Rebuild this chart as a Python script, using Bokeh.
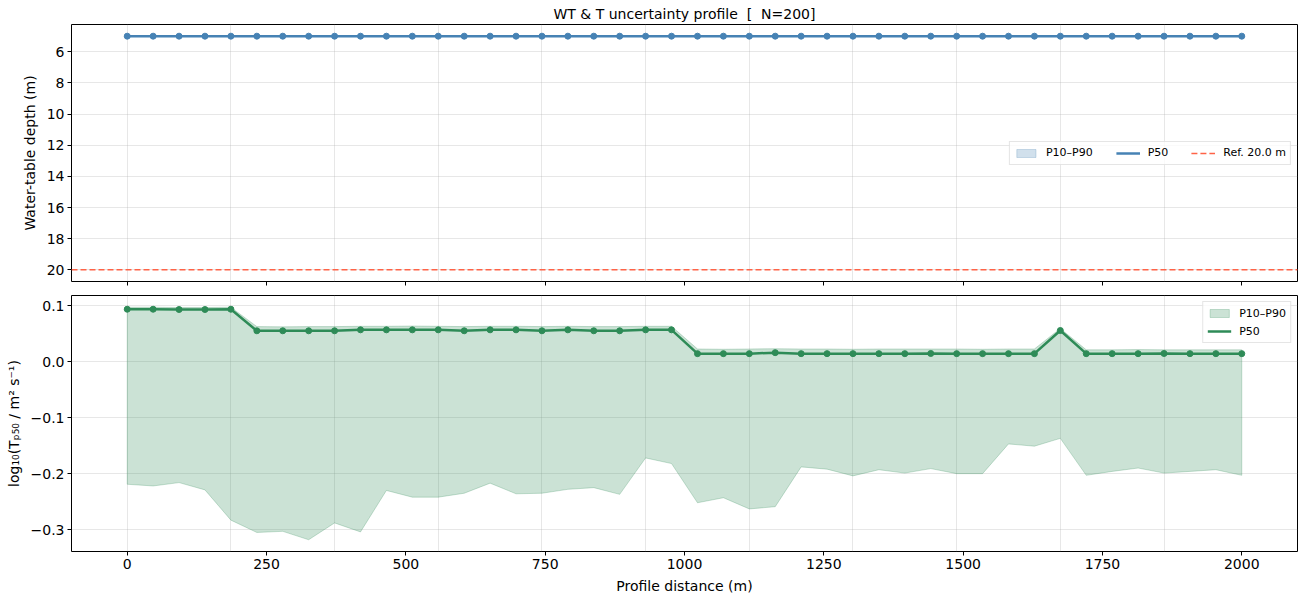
from bokeh.plotting import figure
from bokeh.models import (Range1d, FixedTicker, Span, Legend, LegendItem,
                          CustomJSTickFormatter)
from bokeh.layouts import column
from bokeh.embed import file_html
from bokeh.resources import INLINE

# ---------------- data ----------------
distance = [0.0, 46.5, 93.0, 139.5, 186.0, 232.6, 279.1, 325.6, 372.1, 418.6,
            465.1, 511.6, 558.1, 604.7, 651.2, 697.7, 744.2, 790.7, 837.2, 883.7,
            930.2, 976.7, 1023.3, 1069.8, 1116.3, 1162.8, 1209.3, 1255.8, 1302.3, 1348.8,
            1395.3, 1441.9, 1488.4, 1534.9, 1581.4, 1627.9, 1674.4, 1720.9, 1767.4, 1814.0,
            1860.5, 1907.0, 1953.5, 2000.0]

wt_p10 = [5.0, 5.0, 5.0, 5.0, 5.0, 5.0, 5.0, 5.0, 5.0, 5.0, 5.0, 5.0, 5.0, 5.0, 5.0,
          5.0, 5.0, 5.0, 5.0, 5.0, 5.0, 5.0, 5.0, 5.0, 5.0, 5.0, 5.0, 5.0, 5.0, 5.0,
          5.0, 5.0, 5.0, 5.0, 5.0, 5.0, 5.0, 5.0, 5.0, 5.0, 5.0, 5.0, 5.0, 5.0]
wt_p50 = [5.0, 5.0, 5.0, 5.0, 5.0, 5.0, 5.0, 5.0, 5.0, 5.0, 5.0, 5.0, 5.0, 5.0, 5.0,
          5.0, 5.0, 5.0, 5.0, 5.0, 5.0, 5.0, 5.0, 5.0, 5.0, 5.0, 5.0, 5.0, 5.0, 5.0,
          5.0, 5.0, 5.0, 5.0, 5.0, 5.0, 5.0, 5.0, 5.0, 5.0, 5.0, 5.0, 5.0, 5.0]
wt_p90 = [5.0, 5.0, 5.0, 5.0, 5.0, 5.0, 5.0, 5.0, 5.0, 5.0, 5.0, 5.0, 5.0, 5.0, 5.0,
          5.0, 5.0, 5.0, 5.0, 5.0, 5.0, 5.0, 5.0, 5.0, 5.0, 5.0, 5.0, 5.0, 5.0, 5.0,
          5.0, 5.0, 5.0, 5.0, 5.0, 5.0, 5.0, 5.0, 5.0, 5.0, 5.0, 5.0, 5.0, 5.0]
ref_depth = 20.0

t_p10 = [-0.219, -0.222, -0.216, -0.229, -0.283, -0.305, -0.303, -0.318, -0.288, -0.304,
         -0.230, -0.242, -0.242, -0.235, -0.217, -0.236, -0.235, -0.228, -0.225, -0.237,
         -0.172, -0.182, -0.252, -0.243, -0.263, -0.259, -0.188, -0.192, -0.204, -0.193,
         -0.199, -0.191, -0.200, -0.200, -0.147, -0.151, -0.137, -0.203, -0.196, -0.190,
         -0.199, -0.196, -0.193, -0.203]
t_p50 = [0.0935, 0.0935, 0.093, 0.093, 0.0935, 0.055, 0.055, 0.055, 0.055, 0.0567,
         0.0567, 0.0567, 0.0567, 0.055, 0.0567, 0.0567, 0.055, 0.0567, 0.055, 0.055,
         0.0567, 0.0567, 0.0142, 0.0142, 0.0142, 0.016, 0.0142, 0.0142, 0.0142, 0.0142,
         0.0142, 0.0145, 0.0142, 0.0142, 0.0142, 0.0142, 0.0555, 0.0142, 0.0142, 0.0142,
         0.0145, 0.0142, 0.0142, 0.0142]
t_p90 = [0.097, 0.097, 0.0965, 0.0965, 0.097, 0.0625, 0.062, 0.0625, 0.0625, 0.063,
         0.063, 0.0635, 0.063, 0.0625, 0.063, 0.063, 0.0625, 0.063, 0.0625, 0.0625,
         0.063, 0.063, 0.0225, 0.022, 0.0225, 0.023, 0.0225, 0.0225, 0.022, 0.0225,
         0.0225, 0.0225, 0.0225, 0.022, 0.0225, 0.0225, 0.059, 0.021, 0.021, 0.0215,
         0.021, 0.021, 0.021, 0.021]

x_ticks = [0, 250, 500, 750, 1000, 1250, 1500, 1750, 2000]
wt_ticks = [6, 8, 10, 12, 14, 16, 18, 20]
t_ticks = [-0.3, -0.2, -0.1, 0.0, 0.1]
grid_x = distance[::4]

title_text = "WT & T uncertainty profile \u00a0[ \u00a0N=200]"
FONT = "DejaVu Sans"
BLUE = "steelblue"
GREEN = "seagreen"
RED = "tomato"


def style(p):
    p.outline_line_color = "black"
    p.outline_line_alpha = 1.0
    p.outline_line_width = 1
    p.background_fill_color = "white"
    p.border_fill_color = "white"
    for ax in p.axis:
        ax.axis_line_color = None
        ax.major_tick_out = 4
        ax.major_tick_in = 0
        ax.minor_tick_out = 0
        ax.minor_tick_in = 0
        ax.major_tick_line_color = "black"
        ax.major_label_text_font = FONT
        ax.major_label_text_font_size = "14px"
        ax.major_label_text_color = "black"
        ax.major_label_standoff = 3
        ax.axis_label_text_font = FONT
        ax.axis_label_text_font_size = "14px"
        ax.axis_label_text_font_style = "normal"
        ax.axis_label_text_color = "black"
        ax.axis_label_standoff = 6
    for g in p.grid:
        g.grid_line_color = "#b0b0b0"
        g.grid_line_alpha = 0.3
        g.grid_line_width = 1
    p.xgrid.ticker = FixedTicker(ticks=grid_x)


def style_legend(lg):
    lg.label_text_font = FONT
    lg.label_text_font_size = "11px"
    lg.label_text_color = "black"
    lg.glyph_width = 24
    lg.glyph_height = 10
    lg.label_height = 14
    lg.label_standoff = 8
    lg.padding = 4
    lg.margin = 6
    lg.border_line_color = "#cccccc"
    lg.border_line_width = 1
    lg.background_fill_color = "white"
    lg.background_fill_alpha = 0.8


# ---------------- top panel ----------------
p1 = figure(width=1300, height=288, x_range=Range1d(-100, 2100),
            y_range=Range1d(20.75, 4.25), output_backend="svg",
            toolbar_location=None, min_border_left=71, min_border_right=3,
            min_border_top=24, min_border_bottom=7)
p1.title.text = title_text
p1.title.align = "center"
p1.title.text_font = FONT
p1.title.text_font_size = "14px"
p1.title.text_font_style = "normal"
p1.title.text_color = "black"
p1.title.standoff = 5

band1 = p1.patch(x=distance + distance[::-1], y=wt_p90 + wt_p10[::-1],
                 fill_color=BLUE, fill_alpha=0.25, line_color=BLUE, line_alpha=0.25,
                 line_width=1)
line1 = p1.line(distance, wt_p50, line_color=BLUE, line_width=2.5)
p1.scatter(distance, wt_p50, size=6, fill_color=BLUE, line_color=BLUE)
ref_leg = p1.line(x=[distance[0], distance[0]], y=[ref_depth, ref_depth],
                  line_color=RED, line_dash="6 3", line_width=1.5)
p1.add_layout(Span(location=ref_depth, dimension="width", line_color=RED,
                   line_dash="6 3", line_width=1.5))

p1.xaxis.ticker = FixedTicker(ticks=x_ticks)
p1.yaxis.ticker = FixedTicker(ticks=wt_ticks)
p1.yaxis.axis_label = "Water-table depth (m)"
style(p1)
p1.xaxis.formatter = CustomJSTickFormatter(code="return '';")
p1.xaxis.major_label_standoff = 0

lg1 = Legend(items=[LegendItem(label="P10–P90", renderers=[band1]),
                    LegendItem(label="P50", renderers=[line1]),
                    LegendItem(label="Ref. 20.0 m", renderers=[ref_leg])],
             location="center_right", orientation="horizontal")
style_legend(lg1)
lg1.spacing = 23
p1.add_layout(lg1)

# ---------------- bottom panel ----------------
p2 = figure(width=1300, height=312, x_range=p1.x_range,
            y_range=Range1d(-0.339, 0.118), output_backend="svg",
            toolbar_location=None, min_border_left=71, min_border_right=3,
            min_border_top=7, min_border_bottom=49)

band2 = p2.patch(x=distance + distance[::-1], y=t_p90 + t_p10[::-1],
                 fill_color=GREEN, fill_alpha=0.25, line_color=GREEN, line_alpha=0.25,
                 line_width=1)
line2 = p2.line(distance, t_p50, line_color=GREEN, line_width=2.5)
p2.scatter(distance, t_p50, size=6, fill_color=GREEN, line_color=GREEN)

p2.xaxis.ticker = FixedTicker(ticks=x_ticks)
p2.yaxis.ticker = FixedTicker(ticks=t_ticks)
p2.yaxis.formatter = CustomJSTickFormatter(
    code="var s = Math.abs(tick).toFixed(1); return (tick < -1e-9 ? '\u2212' : '') + s;")
p2.xaxis.axis_label = "Profile distance (m)"
p2.yaxis.axis_label = "log₁₀(Tₚ₅₀ / m² s⁻¹)"
style(p2)

lg2 = Legend(items=[LegendItem(label="P10–P90", renderers=[band2]),
                    LegendItem(label="P50", renderers=[line2])],
             location="top_right", orientation="vertical")
style_legend(lg2)
lg2.spacing = 4
p2.add_layout(lg2)

layout = column(p1, p2)
open("out.html", "w").write(file_html(layout, INLINE))
